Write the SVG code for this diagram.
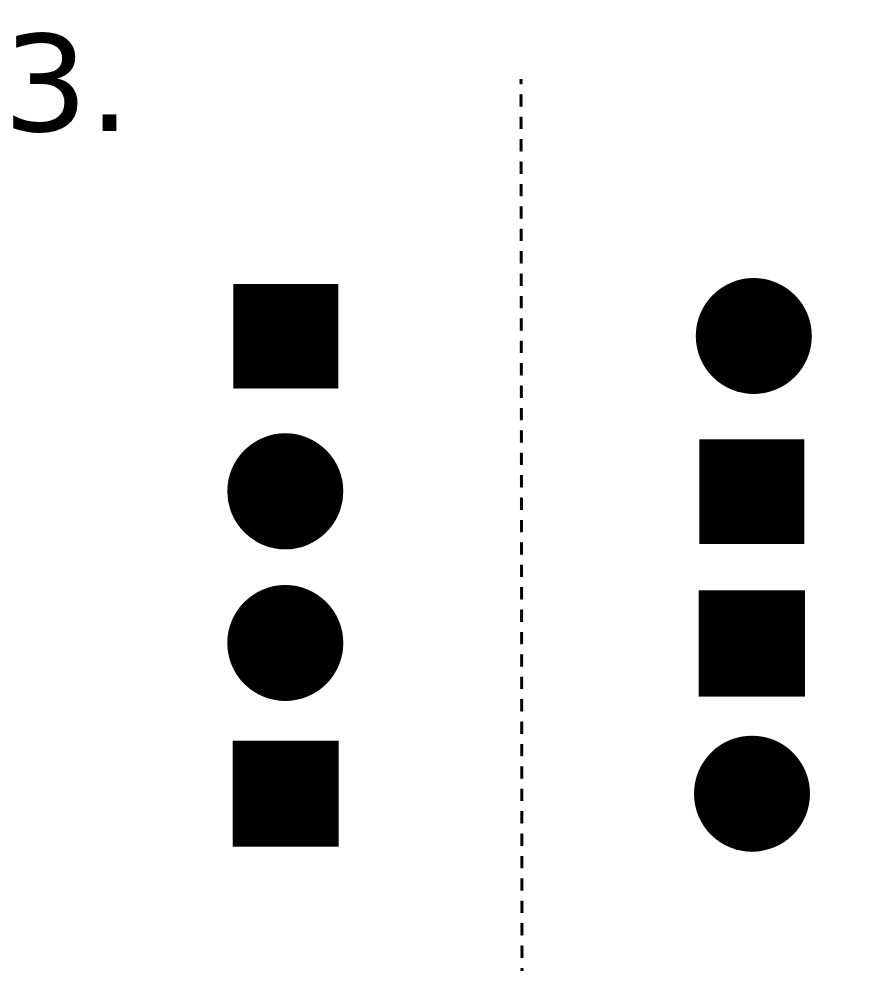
<svg xmlns="http://www.w3.org/2000/svg" width="872" height="1005" viewBox="0 0 872 1005">
<style>
.shape{fill:#000}
.label{font-family:"DejaVu Sans","Liberation Sans",sans-serif;font-size:134px;fill:#000}
.divider{stroke:#000;stroke-width:3;stroke-dasharray:12.4 10;stroke-dashoffset:7.1;fill:none}
</style>
<rect width="872" height="1005" fill="#fff"/>
<text class="label" x="3" y="131">3.</text>
<g id="connectors">
<line class="divider" x1="521" y1="79" x2="522" y2="971"/>
</g>
<g id="left-square-1"><rect class="shape" x="233.3" y="284" width="105" height="104.5"/></g>
<g id="left-circle-1"><circle class="shape" cx="285.3" cy="491.3" r="58"/></g>
<g id="left-circle-2"><circle class="shape" cx="285.3" cy="643" r="58"/></g>
<g id="left-square-2"><rect class="shape" x="232.7" y="740.7" width="106" height="106"/></g>
<g id="right-circle-1"><circle class="shape" cx="753.8" cy="336" r="58"/></g>
<g id="right-square-1"><rect class="shape" x="699.3" y="439.3" width="105" height="104.7"/></g>
<g id="right-square-2"><rect class="shape" x="698.7" y="590.3" width="106.3" height="106.3"/></g>
<g id="right-circle-2"><circle class="shape" cx="752" cy="793.7" r="58"/></g>
</svg>
